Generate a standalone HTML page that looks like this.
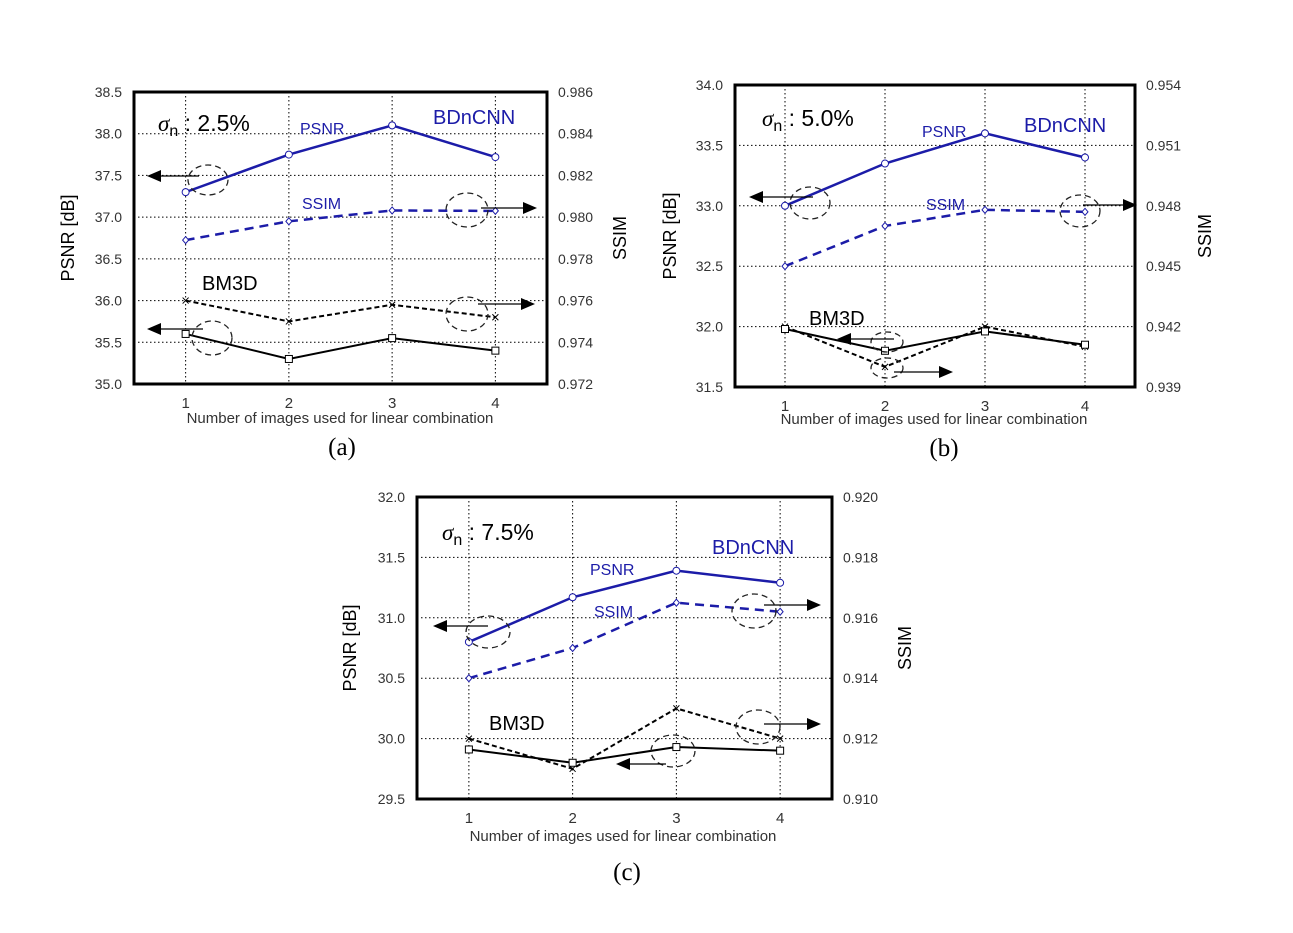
<!DOCTYPE html>
<html><head><meta charset="utf-8"><style>
body{margin:0;background:#fff;}
svg{display:block;font-family:"Liberation Sans",sans-serif;}
</style></head><body>
<svg id="fig" width="1293" height="933" viewBox="0 0 1293 933" xmlns="http://www.w3.org/2000/svg"></svg>
<script>
const categories = [1, 2, 3, 4];
// chart (a) sigma 2.5%
const aBdPsnr = [37.3, 37.75, 38.1, 37.72];
const aBdSsim = [0.9789, 0.9798, 0.98032, 0.9803];
const aBmPsnr = [35.6, 35.3, 35.55, 35.4];
const aBmSsim = [0.976, 0.975, 0.9758, 0.9752];
const aLeftTicks = ["35.0","35.5","36.0","36.5","37.0","37.5","38.0","38.5"];
const aRightTicks = ["0.972","0.974","0.976","0.978","0.980","0.982","0.984","0.986"];
// chart (b) sigma 5.0%
const bBdPsnr = [33.0, 33.35, 33.6, 33.4];
const bBdSsim = [0.945, 0.947, 0.9478, 0.9477];
const bBmPsnr = [31.98, 31.8, 31.96, 31.85];
const bBmSsim = [0.942, 0.940, 0.942, 0.941];
const bLeftTicks = ["31.5","32.0","32.5","33.0","33.5","34.0"];
const bRightTicks = ["0.939","0.942","0.945","0.948","0.951","0.954"];
// chart (c) sigma 7.5%
const cBdPsnr = [30.8, 31.17, 31.39, 31.29];
const cBdSsim = [0.914, 0.915, 0.9165, 0.9162];
const cBmPsnr = [29.91, 29.8, 29.93, 29.9];
const cBmSsim = [0.912, 0.911, 0.913, 0.912];
const cLeftTicks = ["29.5","30.0","30.5","31.0","31.5","32.0"];
const cRightTicks = ["0.910","0.912","0.914","0.916","0.918","0.920"];

const NS = "http://www.w3.org/2000/svg";
const svg = document.getElementById("fig");
function mk(tag, attrs, parent){
  const e = document.createElementNS(NS, tag);
  for (const k in attrs) e.setAttribute(k, attrs[k]);
  (parent||svg).appendChild(e);
  return e;
}
function txt(s, attrs, parent){ const t = mk("text", attrs, parent); t.textContent = s; return t; }

const BLUE = "#1c1ca8";
const charts = [
 {key:"a", box:[134,92,547,384], L:aLeftTicks, R:aRightTicks, bdP:aBdPsnr, bdS:aBdSsim, bmP:aBmPsnr, bmS:aBmSsim,
  sigma:"2.5%", sx:158, sy:131, pl:[300,134], bd:[433,124], ss:[302,209], bm:[202,290], yt:[68,238], rt:[620,238], xt:[340,423], cap:[342,455],
  ell:[[208,180,20,15],[467,210,21,17],[467,314,21,17],[212,338,20,17]],
  arr:[[199,176,147],[481,208,537],[478,304,535],[203,329,147]]},
 {key:"b", box:[735,85,1135,387], L:bLeftTicks, R:bRightTicks, bdP:bBdPsnr, bdS:bBdSsim, bmP:bBmPsnr, bmS:bBmSsim,
  sigma:"5.0%", sx:762, sy:126, pl:[922,137], bd:[1024,132], ss:[926,210], bm:[809,325], yt:[670,236], rt:[1205,236], xt:[934,424], cap:[944,456],
  ell:[[810,203,20,16],[1080,211,20,16],[887,342,16,10],[887,368,16,10]],
  arr:[[813,197,749],[1083,205,1137],[894,339,837],[894,372,953]]},
 {key:"c", box:[417,497,832,799], L:cLeftTicks, R:cRightTicks, bdP:cBdPsnr, bdS:cBdSsim, bmP:cBmPsnr, bmS:cBmSsim,
  sigma:"7.5%", sx:442, sy:540, pl:[590,575], bd:[712,554], ss:[594,617], bm:[489,730], yt:[350,648], rt:[905,648], xt:[623,841], cap:[627,880],
  ell:[[488,632,22,16],[754,611,22,17],[758,727,22,17],[673,751,22,16]],
  arr:[[488,626,433],[764,605,821],[764,724,821],[666,764,616]]}
];

charts.forEach(c => {
  const [l,t,r,b] = c.box;
  const g = mk("g", {});
  
  
  const lMin = parseFloat(c.L[0]), lMax = parseFloat(c.L[c.L.length-1]);
  const rMin = parseFloat(c.R[0]), rMax = parseFloat(c.R[c.R.length-1]);
  const x = v => l + (v - 0.5) / 4 * (r - l);
  const yL = v => b - (v - lMin) / (lMax - lMin) * (b - t);
  const yR = v => b - (v - rMin) / (rMax - rMin) * (b - t);
  // grid
  c.L.forEach((s,i) => {
    const yy = yL(parseFloat(s));
    if (i>0 && i<c.L.length-1) {
      const gl = mk("line", {x1:l,x2:r,y1:yy,y2:yy,stroke:"#000","stroke-width":1,"stroke-dasharray":"1.5,2.5"}, g);
      
      
    }
    const tl = txt(s, {x:l-12,y:yy+5,"text-anchor":"end","font-size":14,fill:"#333"}, g);
    
    
  });
  c.R.forEach(s => {
    const yy = yR(parseFloat(s));
    const tr = txt(s, {x:r+11,y:yy+5,"font-size":14,fill:"#333"}, g);
    
    
  });
  categories.forEach(cv => {
    const xx = x(cv);
    const gl = mk("line", {x1:xx,x2:xx,y1:t,y2:b,stroke:"#000","stroke-width":1,"stroke-dasharray":"1.5,2.5"}, g);
    
    
    const xl = txt(String(cv), {x:xx,y:b+24,"text-anchor":"middle","font-size":15,fill:"#333"}, g);
    
    
  });
  const box = mk("rect", {x:l,y:t,width:r-l,height:b-t,fill:"none",stroke:"#000","stroke-width":3}, g);
  
  

  function series(vals, yf, color, dash, width, marker, name){
    const pts = vals.map((v,i) => x(categories[i]) + "," + yf(v)).join(" ");
    const pl = mk("polyline", {points:pts,fill:"none",stroke:color,"stroke-width":width,"stroke-dasharray":dash}, g);
    
    
    vals.forEach((v,i) => {
      const px = x(categories[i]), py = yf(v);
      let m;
      if (marker==="circle") m = mk("circle", {cx:px,cy:py,r:3.5,fill:"#fff",stroke:color,"stroke-width":1}, g);
      else if (marker==="diamond") m = mk("polygon", {points:`${px},${py-3.5} ${px+3},${py} ${px},${py+3.5} ${px-3},${py}`,fill:"#fff",stroke:color,"stroke-width":1}, g);
      else if (marker==="square") m = mk("rect", {x:px-3.5,y:py-3.5,width:7,height:7,fill:"#fff",stroke:color,"stroke-width":1}, g);
      else m = mk("path", {d:`M${px-3},${py-3}L${px+3},${py+3}M${px-3},${py+3}L${px+3},${py-3}`,stroke:color,"stroke-width":1}, g);
      
      
    });
  }
  series(c.bdS, yR, BLUE, "9,6", 2.5, "diamond", "bdncnn-ssim");
  series(c.bdP, yL, BLUE, "", 2.5, "circle", "bdncnn-psnr");
  series(c.bmS, yR, "#000", "5,3", 2, "x", "bm3d-ssim");
  series(c.bmP, yL, "#000", "", 2, "square", "bm3d-psnr");

  // annotations
  c.ell.forEach(e => {
    const el = mk("ellipse", {cx:e[0],cy:e[1],rx:e[2],ry:e[3],fill:"none",stroke:"#222","stroke-width":1.3,"stroke-dasharray":"6,4"}, g);
    
    
  });
  c.arr.forEach(a => {
    const [x1,yy,x2] = a; const dir = x2 > x1 ? 1 : -1;
    const ln = mk("line", {x1:x1,y1:yy,x2:x2-dir*12,y2:yy,stroke:"#000","stroke-width":1.2}, g);
    
    
    const hd = mk("polygon", {points:`${x2},${yy} ${x2-dir*14},${yy-6} ${x2-dir*14},${yy+6}`,fill:"#000"}, g);
    
    
  });

  // labels
  const sg = txt("", {x:c.sx,y:c.sy,"font-size":23,fill:"#000"}, g);
  sg.innerHTML = '<tspan font-family="Liberation Serif" font-style="italic">σ</tspan><tspan font-size="16" dy="5">n</tspan><tspan dy="-5"> : ' + c.sigma + '</tspan>';
  
  
  const p = txt("PSNR", {x:c.pl[0],y:c.pl[1],"font-size":16,fill:BLUE}, g);
  
  
  const bd = txt("BDnCNN", {x:c.bd[0],y:c.bd[1],"font-size":20,fill:BLUE}, g);
  
  
  const ss = txt("SSIM", {x:c.ss[0],y:c.ss[1],"font-size":16,fill:BLUE}, g);
  
  
  const bm = txt("BM3D", {x:c.bm[0],y:c.bm[1],"font-size":20,fill:"#000"}, g);
  
  
  const yt = txt("PSNR [dB]", {x:0,y:0,"font-size":18,fill:"#000","text-anchor":"middle",transform:`translate(${c.yt[0]+6},${c.yt[1]}) rotate(-90)`}, g);
  
  
  const rt = txt("SSIM", {x:0,y:0,"font-size":18,fill:"#000","text-anchor":"middle",transform:`translate(${c.rt[0]+6},${c.rt[1]}) rotate(-90)`}, g);
  
  
  const xt = txt("Number of images used for linear combination", {x:c.xt[0],y:c.xt[1],"font-size":15,fill:"#333","text-anchor":"middle"}, g);
  
  
  const cap = txt("(" + c.key + ")", {x:c.cap[0],y:c.cap[1],"font-size":25,fill:"#000","text-anchor":"middle","font-family":"Liberation Serif"}, g);
  
  
});
</script>
</body></html>
